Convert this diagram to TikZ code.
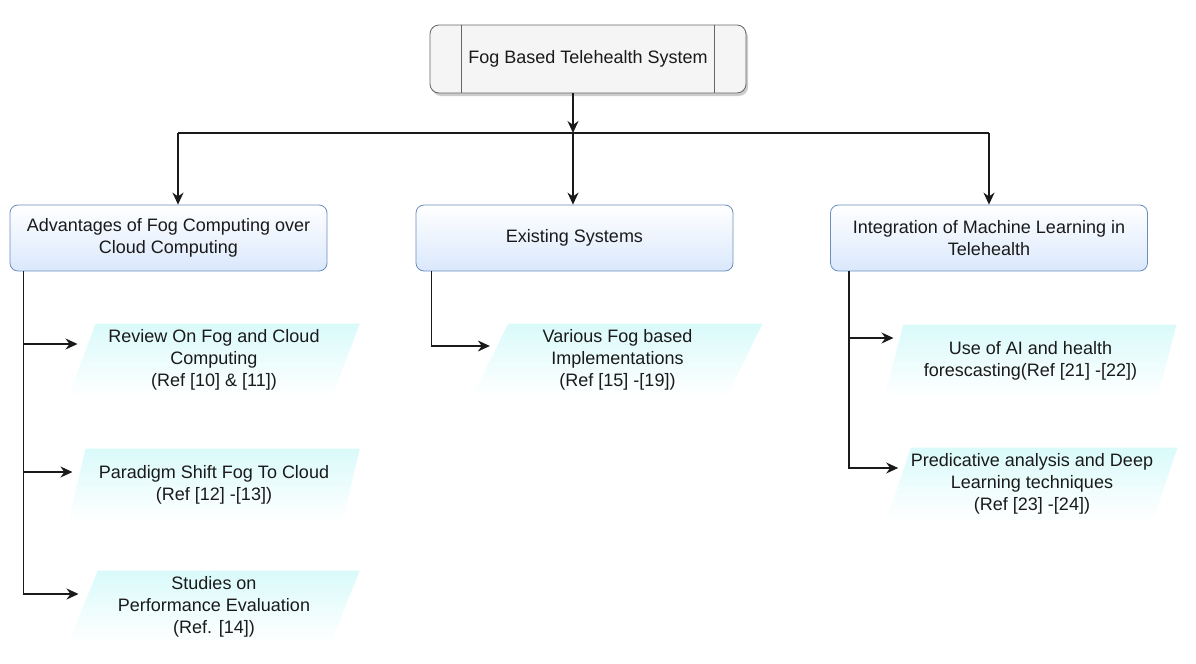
\documentclass[tikz,border=0pt]{standalone}
\usepackage{fontspec}
\setmainfont{Liberation Sans}
\usepackage{tikz}
\usetikzlibrary{arrows.meta, positioning, shapes.geometric, shadows}
\usepackage{xcolor}
\definecolor{topfill}{RGB}{245,245,245}
\definecolor{topline}{RGB}{102,102,102}
\definecolor{boxblue}{RGB}{218,232,252}
\definecolor{boxline}{RGB}{108,142,191}
\definecolor{paracyan}{RGB}{218,250,250}
\definecolor{inkgray}{RGB}{26,26,26}

\begin{document}
\begin{tikzpicture}[x=0.5pt, y=-0.5pt,
  every node/.style={font=\fontsize{9}{11}\selectfont, text=inkgray, align=center},
  mainbox/.style={draw=topline, fill=topfill, rounded corners=4.5pt, minimum width=158pt, minimum height=34pt,
    drop shadow={shadow xshift=1pt, shadow yshift=-1.5pt, opacity=0.4}},
  topicbox/.style={draw=boxline, top color=white, bottom color=boxblue, rounded corners=4pt,
    minimum width=158.5pt, minimum height=33pt},
  refbox/.style={trapezium, trapezium left angle=68, trapezium right angle=112, trapezium stretches=true,
    top color=paracyan, bottom color=white, minimum width=146pt, minimum height=36.5pt, inner sep=0pt},
  link/.style={draw=inkgray, line width=0.7pt},
  arr/.style={link, -{Stealth[length=6pt, width=5.5pt]}}]
\useasboundingbox (0,0) rectangle (1196,664);

\node[mainbox] (top) at (588,59) {Fog Based Telehealth System};
\draw[topline] ([xshift=16pt]top.north west) -- ([xshift=16pt]top.south west);
\draw[topline] ([xshift=-16pt]top.north east) -- ([xshift=-16pt]top.south east);

\node[topicbox] (fogadv) at (168.5,238) {Advantages of Fog Computing over\\Cloud Computing};
\node[topicbox] (existing) at (574.5,238) {Existing Systems};
\node[topicbox] (mlint) at (989,238) {Integration of Machine Learning in\\Telehealth};

\node[refbox] (review) at (214,360) {Review On Fog and Cloud\\Computing\\(Ref [10] \& [11])};
\node[refbox] (shift) at (214,485) {Paradigm Shift Fog To Cloud\\(Ref [12] -[13])};
\node[refbox] (perf) at (214,607) {Studies on\\Performance Evaluation\\(Ref. [14])};
\node[refbox] (impl) at (617.5,360) {Various Fog based\\Implementations\\(Ref [15] -[19])};
\node[refbox] (aifc) at (1030.5,361) {Use of AI and health\\forescasting(Ref [21] -[22])};
\node[refbox] (pred) at (1032,484) {Predicative analysis and Deep\\Learning techniques\\(Ref [23] -[24])};

\coordinate (hub) at (573,133);
\coordinate (hubl) at (178,133);
\coordinate (hubr) at (989,133);
\draw[arr] (top.south -| hub) -- (hub);
\draw[link] (hubl) -- (hubr);
\draw[arr] (hubl) -- (hubl |- fogadv.north);
\draw[arr] (hub) -- (hub |- existing.north);
\draw[arr] (hubr) -- (mlint.north);

\coordinate (spinel) at ([xshift=7pt]fogadv.south west);
\draw[arr] (spinel) |- ([xshift=-2pt,yshift=8pt]review.west);
\draw[arr] (spinel) |- ([xshift=-2pt,yshift=6.5pt]shift.west);
\draw[arr] (spinel) |- ([xshift=-2pt,yshift=6.5pt]perf.west);

\coordinate (spinem) at ([xshift=8pt]existing.south west);
\draw[arr] (spinem) |- ([yshift=7pt]impl.west);

\coordinate (spiner) at ([xshift=9.5pt]mlint.south west);
\draw[arr] (spiner) |- ([yshift=11.5pt]aifc.west);
\draw[arr] (spiner) |- ([yshift=8pt]pred.west);
\end{tikzpicture}
\end{document}
